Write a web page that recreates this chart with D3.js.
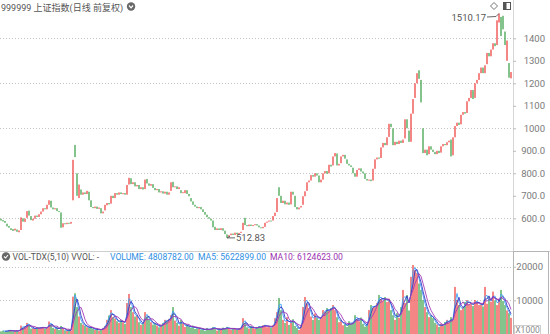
<!DOCTYPE html>
<html><head><meta charset="utf-8">
<script src="https://cdn.jsdelivr.net/npm/d3@7"></script>
<style>
html,body{margin:0;padding:0;background:#fff;overflow:hidden}
svg{display:block}
text{font-family:Roboto,"Noto Sans CJK SC","Liberation Sans",Arial,sans-serif}
</style></head><body>
<svg id="c" width="550" height="334"></svg>
<script>
// ---- data ----
const opens=[598,592,588,576,566,556,552,546,550,538,548,600,584,602,634,610,590,598,612,606,
618,630,645,640,660,678,648,640,645,632,626,560,578,574,580,576,680,926,800,690,
728,705,715,708,718,680,650,645,652,642,645,622,635,658,668,665,700,690,712,705,
715,708,712,705,750,778,752,760,742,748,730,738,730,775,755,745,752,735,725,730,
715,720,710,718,705,722,762,738,742,730,725,712,712,725,708,690,675,660,652,645,
650,640,628,616,605,598,590,562,548,555,548,556,545,528,516,525,532,526,536,530,
535,548,602,570,565,572,566,570,574,568,560,556,562,580,585,590,590,610,628,738,
700,668,678,662,670,662,718,700,650,640,648,660,698,722,760,768,792,785,800,790,
760,772,800,810,800,838,835,875,888,835,845,875,882,862,842,835,825,800,785,815,
822,808,800,775,768,772,768,820,862,870,868,915,935,925,962,1020,1000,925,940,930,
945,935,955,1040,990,940,1065,1135,1200,1258,1215,1000,890,905,885,920,905,895,885,900,
892,920,930,925,938,950,880,960,1010,1025,1018,1060,1072,1068,1120,1135,1170,1135,1200,1215,
1245,1270,1245,1285,1335,1320,1350,1378,1370,1470,1495,1500,1430,1300,1290,1222];
const closes=[590,586,580,564,558,548,544,554,540,546,604,585,598,632,612,592,598,612,606,618,
630,645,640,660,680,648,640,645,632,628,558,578,574,580,576,584,860,872,700,750,
705,715,708,722,680,650,645,652,642,648,622,630,660,668,662,700,690,712,705,715,
708,712,705,748,780,752,760,742,748,730,738,728,772,755,745,752,735,725,730,715,
720,710,718,705,715,760,738,742,730,738,712,716,725,708,698,675,660,652,645,650,
640,628,616,605,598,590,560,548,555,548,556,545,530,513,525,532,526,536,530,535,
540,580,570,565,572,566,570,574,568,560,556,562,580,585,590,586,610,625,690,700,
668,678,662,670,660,718,705,650,640,648,655,698,720,760,768,792,785,800,790,760,
772,800,810,798,838,830,875,890,835,842,875,882,865,842,835,828,800,785,815,822,
808,800,775,768,772,765,820,862,870,865,915,935,925,960,1020,1005,925,940,930,945,
935,950,1040,1000,940,1065,1130,1200,1245,1220,1115,890,905,880,920,905,895,885,900,890,
920,930,925,938,945,875,960,1010,1025,1015,1060,1072,1065,1120,1135,1170,1130,1200,1215,1245,
1270,1245,1280,1335,1320,1350,1378,1365,1480,1510.17,1410,1440,1370,1390,1225,1250];
const volumes=[800,1000,700,900,1200,1000,800,900,1100,700,
2500,1800,2200,3300,2600,
1600,1800,1500,2000,1700,1900,2100,1600,1800,
3700,2800,
1800,1500,2000,1200,2400,1500,1100,900,1300,1000,
11100,12100,8000,5200,
3300,2800,2400,2000,
1800,2100,1500,1200,1600,1000,1400,1800,
2400,4200,5500,7100,5000,4600,
3800,3300,4200,3500,3000,
9200,11900,8000,6500,5200,5600,
3500,2700,3200,
6500,5200,4200,
3500,2800,3200,2500,2000,2600,
3300,4200,3800,
4500,5600,8000,
4000,3300,2500,4200,3000,2100,2700,
2200,1800,2500,1500,2000,1600,
1300,1600,900,1800,1200,1500,2100,1700,1000,
1600,1200,1900,1400,2100,1600,1300,1800,1500,1200,1700,1900,
4700,3200,
2000,1600,2400,1800,1500,2100,
2300,1900,2600,2700,2000,2400,1800,2600,
4700,6500,10700,7100,
4200,3300,5000,2700,3800,4400,2400,
1800,1200,
2700,8000,11000,9000,7700,
5200,4200,6100,4800,4200,5000,
7100,6500,7700,
6800,7700,8600,7100,
5000,3500,4200,2600,3000,2100,3800,2900,
3300,5600,4400,3800,4900,
3000,2200,2600,
7100,8600,7800,8300,
9200,11600,10400,9800,11000,9500,10500,
7100,5600,4200,6200,4800,
8000,13100,9200,11600,
7000,
17000,20500,19000,18100,15000,13100,
10100,8000,6500,5000,5600,
4700,3300,2800,2100,3000,2500,3600,4200,
3300,5000,4100,
14000,10100,8600,7100,
8000,9500,10100,8800,9200,8300,10100,9500,8600,9000,8200,
14000,
9000,11000,9600,12600,10000,8600,10500,13100,9800,
8600,7000,6200,4800];
const priceTicks=[600,700,800,900,1000,1100,1200,1300,1400];
const priceTickLabels=["600.0","700.0","800.0","900.0","1000","1100","1200","1300","1400"];
const priceGrid=[600,800,1000,1200,1400];
const volTicks=[10000,20000];
const volTickLabels=["10000","20000"];
const maWindows=[2,3,5];
const extremeLabels=["1510.17","512.83"];
const titleText="999999 上证指数(日线 前复权)";
const volTitleParts=["VOL-TDX(5,10) VVOL: -","VOLUME: 4808782.00","MA5: 5622899.00","MA10: 6124623.00"];
const unitLabel="X1000";

// ---- drawing ----
const svg=d3.select("#c");
const n=closes.length;
const plotR=513;
const x=d3.scaleBand().domain(d3.range(n)).range([0,512]);
const bw=x.bandwidth();
const y=d3.scaleLinear().domain([600,1400]).range([218.3,38.3]);
const yv=d3.scaleLinear().domain([0,20000]).range([334,266.7]);
const UP="#ef3a3a", DN="#38a044";
const col=i=>closes[i]>=opens[i]?UP:DN;

// grid
svg.append("g").selectAll("line").data(priceGrid).join("line")
 .attr("x1",0).attr("x2",plotR).attr("y1",d=>Math.round(y(d))+0.5).attr("y2",d=>Math.round(y(d))+0.5)
 .attr("stroke","#c4c4c4").attr("stroke-dasharray","1,2");
svg.append("g").selectAll("line").data(volTicks).join("line")
 .attr("x1",0).attr("x2",plotR).attr("y1",d=>Math.round(yv(d))+0.5).attr("y2",d=>Math.round(yv(d))+0.5)
 .attr("stroke","#c4c4c4").attr("stroke-dasharray","1,2");

// candles
const cw=1.5;
svg.append("g").attr("fill-opacity",0.82).selectAll("rect").data(d3.range(n)).join("rect")
 .attr("x",i=>x(i)+(bw-cw)/2)
 .attr("width",cw)
 .attr("y",i=>y(Math.max(opens[i],closes[i])))
 .attr("height",i=>Math.max(1,Math.abs(y(opens[i])-y(closes[i]))))
 .attr("fill",col);

// volume bars
svg.append("g").attr("fill-opacity",0.82).selectAll("rect").data(d3.range(n)).join("rect")
 .attr("x",i=>x(i)+(bw-cw)/2)
 .attr("width",cw)
 .attr("y",i=>yv(volumes[i]))
 .attr("height",i=>yv(0)-yv(volumes[i]))
 .attr("fill",col);

// volume moving averages
const maColors=["#3fa2f4","#3838c4","#a43cb6"];
maWindows.forEach((w,k)=>{
  const pts=d3.range(w-1,n).map(i=>[x(i)+bw/2,yv(d3.mean(volumes.slice(i-w+1,i+1)))]);
  svg.append("path").attr("d",d3.line()(pts)).attr("fill","none")
   .attr("stroke",maColors[k]).attr("stroke-width",0.9);
});

// panel frames
svg.append("line").attr("x1",plotR+0.5).attr("x2",plotR+0.5).attr("y1",0).attr("y2",251)
 .attr("stroke","#d6d6d6");
svg.append("line").attr("x1",0).attr("x2",550).attr("y1",251.5).attr("y2",251.5).attr("stroke","#cfcfcf");
svg.append("rect").attr("x",plotR+0.5).attr("y",251.5).attr("width",35).attr("height",84)
 .attr("fill","none").attr("stroke","#b5b5b5");

// price axis
const pa=svg.append("g").attr("transform",`translate(${plotR},0)`)
 .call(d3.axisRight(y).tickValues(priceTicks).tickFormat((d,i)=>priceTickLabels[i]).tickSize(3));
pa.select(".domain").remove();
pa.selectAll("line").attr("stroke","#bbb");
pa.selectAll("text").attr("x",32).attr("text-anchor","end").attr("fill","#7a7a7a")
 .attr("font-size","9.5px").attr("font-family","Roboto,Arial,sans-serif");

// volume axis
const va=svg.append("g").attr("transform",`translate(${plotR},0)`)
 .call(d3.axisRight(yv).tickValues(volTicks).tickFormat((d,i)=>volTickLabels[i]).tickSize(3));
va.select(".domain").remove();
va.selectAll("line").attr("stroke","#bbb");
va.selectAll("text").attr("x",30).attr("text-anchor","end").attr("fill","#7a7a7a")
 .attr("font-size","9.5px").attr("font-family","Roboto,Arial,sans-serif");

// unit box
svg.append("rect").attr("x",514.5).attr("y",325.5).attr("width",26).attr("height",9)
 .attr("fill","#fff").attr("stroke","#cfcfcf");
svg.append("text").attr("x",527.5).attr("y",333).attr("text-anchor","middle")
 .attr("font-size","8.5px").attr("fill","#8a8a8a").text(unitLabel);

// extreme labels
const hiVals=d3.range(n).map(i=>Math.max(opens[i],closes[i]));
const loVals=d3.range(n).map(i=>Math.min(opens[i],closes[i]));
const hiI=d3.maxIndex(hiVals), loI=d3.minIndex(loVals);
const hx=x(hiI)+bw/2, hy=y(hiVals[hiI]);
svg.append("path").attr("d",`M${hx-12},${hy+3.5}L${hx-3},${hy+3}L${hx},${hy}`)
 .attr("stroke","#666").attr("fill","none");
svg.append("text").attr("x",hx-13).attr("y",hy+7).attr("text-anchor","end")
 .attr("font-size","9.5px").attr("fill","#555").text(extremeLabels[0]);
const lx=x(loI)+bw/2, ly=y(loVals[loI]);
svg.append("path").attr("d",`M${lx},${ly}L${lx+3},${ly-1.5}M${lx},${ly}L${lx+8},${ly}`)
 .attr("stroke","#666").attr("fill","none");
svg.append("text").attr("x",lx+9).attr("y",ly+3.5)
 .attr("font-size","9.5px").attr("fill","#555").text(extremeLabels[1]);

// title
const tt=svg.append("text").attr("x",1).attr("y",10.5).attr("font-size","9px").attr("fill","#555").text(titleText);
const tl=tt.node().getComputedTextLength();
const ic=1+tl+8;
svg.append("circle").attr("cx",ic).attr("cy",6.5).attr("r",4.2).attr("fill","#686868");
svg.append("path").attr("d",`M${ic-2},${5.5}L${ic},${7.8}L${ic+2},${5.5}`).attr("stroke","#fff")
 .attr("stroke-width",1.2).attr("fill","none");

// top-right icons
svg.append("path").attr("d","M494,2.5L497.5,6L494,9.5L490.5,6Z").attr("stroke","#777").attr("fill","none");
svg.append("rect").attr("x",503.5).attr("y",2.5).attr("width",7).attr("height",7).attr("stroke","#555").attr("fill","none");
svg.append("rect").attr("x",504).attr("y",3).attr("width",2.5).attr("height",6).attr("fill","#555");

// volume title
svg.append("circle").attr("cx",6).attr("cy",256.5).attr("r",4.2).attr("fill","#686868");
svg.append("path").attr("d","M4,256.5L5.6,258L8,255").attr("stroke","#fff").attr("stroke-width",1.1).attr("fill","none");
const vx=[12.5,110,198,270];
const vc=["#555","#2f8fe4","#2f8fe4","#9a2fb0"];
volTitleParts.forEach((t,i)=>{
  svg.append("text").attr("x",vx[i]).attr("y",259.5).attr("font-size","8.6px").attr("fill",vc[i]).text(t);
});
</script>
</body></html>
